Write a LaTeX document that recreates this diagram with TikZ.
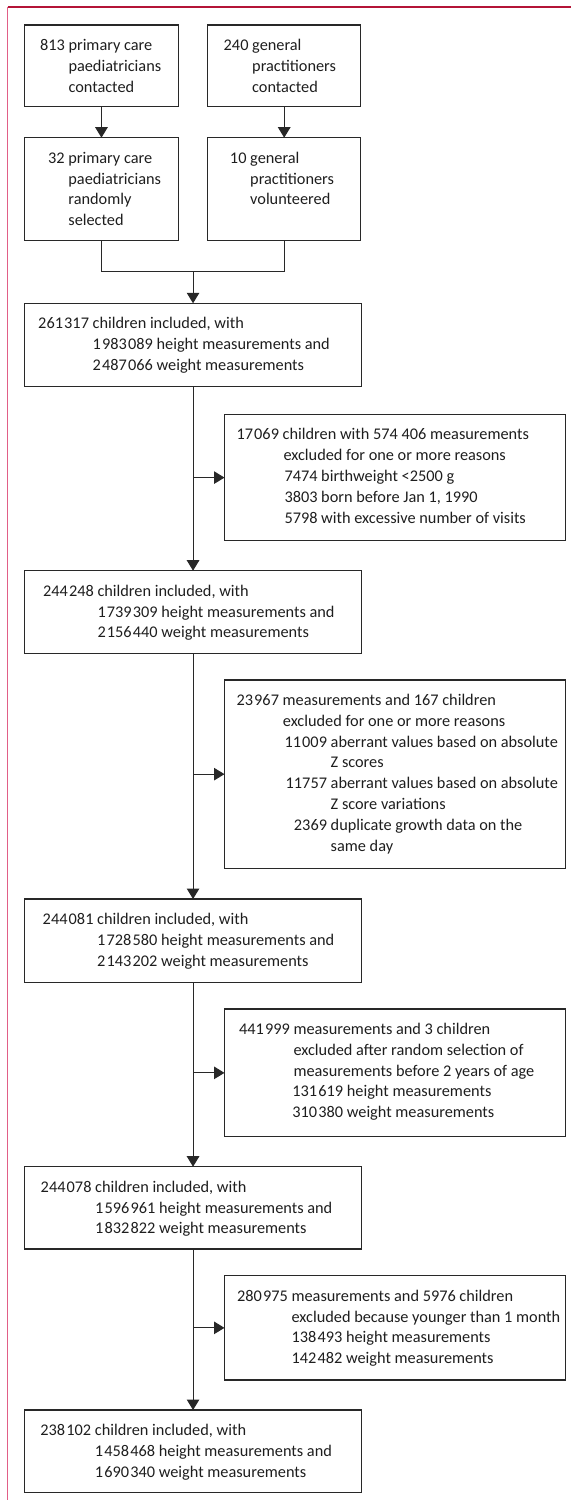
\documentclass[tikz,border=0pt]{standalone}
\usepackage{fontspec}
\setmainfont{Carlito}
\usetikzlibrary{arrows.meta}
\definecolor{framered}{RGB}{180,20,55}
\definecolor{framepink}{RGB}{225,95,135}
\definecolor{ink}{RGB}{30,30,30}
\definecolor{linec}{RGB}{40,40,40}
\newcommand{\ts}{\kern1.2pt}
\begin{document}
\begin{tikzpicture}[x=1pt,y=-1pt,
  box/.style={draw=linec, line width=1.15pt, inner sep=0pt, outer sep=0pt, anchor=north west},
  txt/.style={font=\fontsize{16.3}{20}\selectfont, text=ink, inner sep=0pt, anchor=base west},
  conn/.style={draw=linec, line width=1.1pt},
  arr/.style={conn, -{Triangle[length=10.5pt,width=12.5pt]}},
  frametop/.style={draw=framered, line width=1.8pt},
  frameleft/.style={draw=framepink, line width=1.9pt}]
\useasboundingbox (0,0) rectangle (571,1500);
% frame
\coordinate (fTL) at (7.5,7.3);
\coordinate (fTR) at (571,7.3);
\coordinate (fBL) at (7.5,1500);
\draw[frameleft] (fTL) -- (fBL);
\draw[frametop] (fTL) -- (fTR);
% boxes
\node[box, minimum width=154.1pt, minimum height=81.7pt] (A) at (24.4,25) {};
\node[box, minimum width=153pt, minimum height=81.7pt] (B) at (207.7,25) {};
\node[box, minimum width=154.1pt, minimum height=103pt] (C) at (24.4,137.7) {};
\node[box, minimum width=153pt, minimum height=103pt] (D) at (207.7,137.7) {};
\node[box, minimum width=337.3pt, minimum height=83pt] (E) at (24.4,303.3) {};
\node[box, minimum width=340.9pt, minimum height=126.2pt] (X1) at (224.5,414.5) {};
\node[box, minimum width=337.3pt, minimum height=82.6pt] (F) at (24.4,570.7) {};
\node[box, minimum width=340.9pt, minimum height=188.3pt] (X2) at (224.5,680) {};
\node[box, minimum width=337.3pt, minimum height=83.3pt] (G) at (24.4,899) {};
\node[box, minimum width=340.9pt, minimum height=127.7pt] (X3) at (224.5,1009) {};
\node[box, minimum width=337.3pt, minimum height=82.3pt] (H) at (24.4,1166.7) {};
\node[box, minimum width=340.9pt, minimum height=104.3pt] (X4) at (224.5,1275.7) {};
\node[box, minimum width=337.3pt, minimum height=82.3pt] (I) at (24.4,1410) {};
% connectors
\draw[arr] (A.south) -- (C.north);
\draw[arr] (B.south) -- (D.north);
\path (E.north) ++(0,-31.6) coordinate (m);
\draw[conn] (C.south) -- (C.south |- m) -- (D.south |- m) -- (D.south);
\draw[arr] (m) -- (E.north);
\draw[arr] (E.south) -- (F.north);
\draw[arr] (E.south |- X1.west) -- (X1.west);
\draw[arr] (F.south) -- (G.north);
\draw[arr] (F.south |- X2.west) -- (X2.west);
\draw[arr] (G.south) -- (H.north);
\draw[arr] (G.south |- X3.west) -- (X3.west);
\draw[arr] (H.south) -- (I.north);
\draw[arr] (H.south |- X4.west) -- (X4.west);
% texts box A
\node[txt] (a1) at (68.3,50.5) {\llap{813 }primary care};
\node[txt] (a2) at (68.3,71.3) {paediatricians};
\node[txt] (a3) at (68.3,92.1) {contacted};
% box B
\node[txt] (b1) at (252,50.5) {\llap{240 }general};
\node[txt] (b2) at (252,71.3) {practitioners};
\node[txt] (b3) at (252,92.1) {contacted};
% box C
\node[txt] (c1) at (68.2,163.2) {\llap{32 }primary care};
\node[txt] (c2) at (68.2,184) {paediatricians};
\node[txt] (c3) at (68.2,204.8) {randomly};
\node[txt] (c4) at (68.2,225.6) {selected};
% box D
\node[txt] (d1) at (250,163.2) {\llap{10 }general};
\node[txt] (d2) at (250,184) {practitioners};
\node[txt] (d3) at (250,204.8) {volunteered};
% box E
\node[txt] (e1) at (92.5,328.8) {\llap{261\ts317 }children included, with};
\node[txt] (e2) at (92.5,349.6) {1\ts983\ts089 height measurements and};
\node[txt] (e3) at (92.5,370.4) {2\ts487\ts066 weight measurements};
% excl 1
\node[txt] (x11) at (282.5,439.8) {\llap{17\ts069 }children with 574 406 measurements};
\node[txt] (x12) at (283.3,460.6) {excluded for one or more reasons};
\node[txt] (x13) at (284.3,481.4) {7474 birthweight <2500 g};
\node[txt] (x14) at (284.3,502.2) {3803 born before Jan 1, 1990};
\node[txt] (x15) at (284.3,523) {5798 with excessive number of visits};
% box F
\node[txt] (f1) at (97.3,596.2) {\llap{244\ts248 }children included, with};
\node[txt] (f2) at (97.3,617) {1\ts739\ts309 height measurements and};
\node[txt] (f3) at (97.3,637.8) {2\ts156\ts440 weight measurements};
% excl 2
\node[txt] (x21) at (282.5,705.5) {\llap{23\ts967 }measurements and 167 children};
\node[txt] (x22) at (282.7,726.3) {excluded for one or more reasons};
\node[txt] (x23) at (330.5,747.1) {\llap{11\ts009 }aberrant values based on absolute};
\node[txt] (x24) at (330.5,767.9) {Z scores};
\node[txt] (x25) at (330.5,788.7) {\llap{11757 }aberrant values based on absolute};
\node[txt] (x26) at (330.5,809.5) {Z score variations};
\node[txt] (x27) at (330.5,830.3) {\llap{2369 }duplicate growth data on the};
\node[txt] (x28) at (330.5,851.1) {same day};
% box G
\node[txt] (g1) at (97,924.5) {\llap{244\ts081 }children included, with};
\node[txt] (g2) at (97,945.3) {1\ts728\ts580 height measurements and};
\node[txt] (g3) at (97,966.1) {2\ts143\ts202 weight measurements};
% excl 3
\node[txt] (x31) at (293.3,1034.5) {\llap{441\ts999 }measurements and 3 children};
\node[txt] (x32) at (293.3,1055.3) {excluded after random selection of};
\node[txt] (x33) at (293.3,1076.1) {measurements before 2 years of age};
\node[txt] (x34) at (292.2,1096.9) {131\ts619 height measurements};
\node[txt] (x35) at (292.2,1117.7) {310\ts380 weight measurements};
% box H
\node[txt] (h1) at (95,1192.2) {\llap{244\ts078 }children included, with};
\node[txt] (h2) at (95,1213) {1\ts596\ts961 height measurements and};
\node[txt] (h3) at (95,1233.8) {1\ts832\ts822 weight measurements};
% excl 4
\node[txt] (x41) at (291.4,1301.2) {\llap{280\ts975 }measurements and 5976 children};
\node[txt] (x42) at (291.4,1322) {excluded because younger than 1 month};
\node[txt] (x43) at (291.4,1342.8) {138\ts493 height measurements};
\node[txt] (x44) at (291.4,1363.6) {142\ts482 weight measurements};
% box I
\node[txt] (i1) at (94.7,1435.5) {\llap{238\ts102 }children included, with};
\node[txt] (i2) at (94.7,1456.3) {1\ts458\ts468 height measurements and};
\node[txt] (i3) at (94.7,1477.1) {1\ts690\ts340 weight measurements};
\end{tikzpicture}
\end{document}
